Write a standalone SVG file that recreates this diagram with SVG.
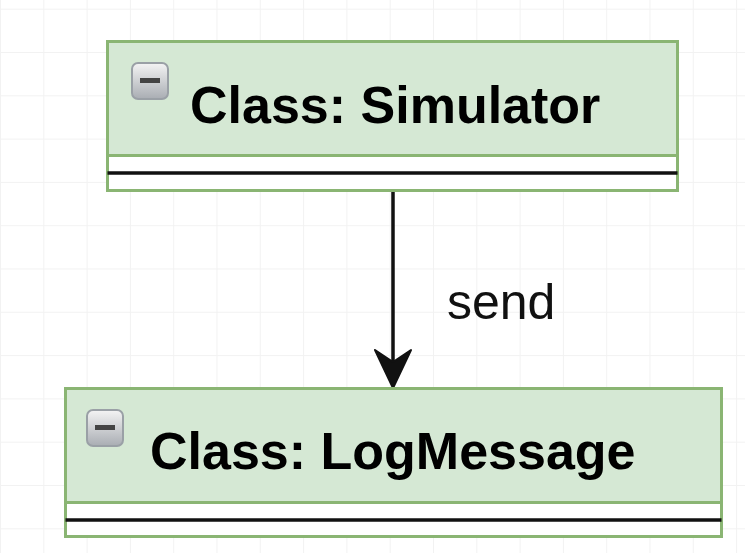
<svg xmlns="http://www.w3.org/2000/svg" width="745" height="553" viewBox="0 0 745 553">
<defs>
<pattern id="grid" x="0" y="8.7" width="43.3" height="43.3" patternUnits="userSpaceOnUse">
<path d="M0 0.5H43.3M0.5 0V43.3" fill="none" stroke="#f2f2f2" stroke-width="1"/>
</pattern>
<linearGradient id="ig" x1="0" y1="0" x2="0" y2="1">
<stop offset="0" stop-color="#f4f4f4"/>
<stop offset="1" stop-color="#a9adb3"/>
</linearGradient>
<g id="icon">
<rect x="0" y="0" width="36" height="36" rx="6" fill="url(#ig)" stroke="#9aa0a6" stroke-width="2"/>
<rect x="8" y="15" width="20" height="5" fill="#444"/>
</g>
</defs>
<style>
.hdr{fill:#d5e8d4;stroke:#8ab573;stroke-width:3}
.body{fill:#ffffff;stroke:#8ab573;stroke-width:3}
.sep{stroke:#111;stroke-width:3.5}
.title{font-family:"Liberation Sans",Arial,sans-serif;font-weight:bold;font-size:52px;fill:#000}
.lbl{font-family:"Liberation Sans",Arial,sans-serif;font-size:50px;fill:#111}
</style>
<rect width="745" height="553" fill="#ffffff"/>
<rect width="745" height="553" fill="url(#grid)"/>
<g id="connectors">
<line x1="393" y1="191" x2="393" y2="365" stroke="#111" stroke-width="3.5"/>
<path d="M393 388 L375 350 L393 362 L411 350 Z" fill="#111" stroke="#111" stroke-width="2" stroke-linejoin="round"/>
<text class="lbl" x="447" y="319">send</text>
</g>
<g id="simulator">
<rect class="body" x="107.5" y="41.5" width="570" height="149"/>
<rect class="hdr" x="107.5" y="41.5" width="570" height="114"/>
<line class="sep" x1="107.5" y1="173" x2="677.5" y2="173"/>
<use href="#icon" x="132" y="63"/>
<text class="title" x="190" y="123">Class: Simulator</text>
</g>
<g id="logmessage">
<rect class="body" x="65.5" y="388.5" width="656" height="148"/>
<rect class="hdr" x="65.5" y="388.5" width="656" height="114"/>
<line class="sep" x1="65.5" y1="520" x2="721.5" y2="520"/>
<use href="#icon" x="87" y="410"/>
<text class="title" x="150" y="469">Class: LogMessage</text>
</g>
</svg>
